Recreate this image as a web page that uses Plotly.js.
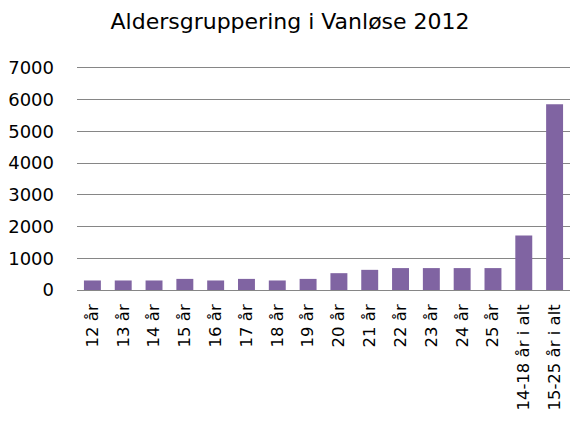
<!DOCTYPE html>
<html>
<head>
<meta charset="utf-8">
<script src="https://cdn.plot.ly/plotly-3.0.1.min.js"></script>
<style>html,body{margin:0;padding:0;background:#fff;}#chart{width:571px;height:427px;}</style>
</head>
<body>
<div id="chart"></div>
<script>
const categories = ["12 år","13 år","14 år","15 år","16 år","17 år","18 år","19 år","20 år","21 år","22 år","23 år","24 år","25 år","14-18 år i alt","15-25 år i alt"];
const values = [300,300,300,350,300,350,300,350,530,635,690,690,690,690,1720,5850];
const yTicks = [0,1000,2000,3000,4000,5000,6000,7000];

const trace = {
  type: 'bar',
  x: categories,
  y: values,
  marker: {color: '#8064A2', line: {color: '#8064A2', width: 0}},
  hoverinfo: 'x+y'
};

const layout = {
  width: 571,
  height: 427,
  margin: {l: 77, r: 1, t: 63, b: 137},
  paper_bgcolor: '#ffffff',
  plot_bgcolor: '#ffffff',
  font: {family: '"DejaVu Sans", sans-serif', color: '#000000', size: 16},
  title: {text: 'Aldersgruppering i Vanløse 2012', x: 0.508, xanchor: 'center', y: 0.95, yanchor: 'middle', font: {size: 22, color: '#000'}},
  bargap: 0.45,
  showlegend: false,
  xaxis: {
    type: 'category',
    tickangle: -90,
    showgrid: false,
    showline: false,
    ticks: '',
    ticklabelstandoff: 10,
    tickfont: {size: 16.5},
    zeroline: false
  },
  yaxis: {
    range: [0, 7150],
    tickvals: yTicks,
    ticktext: yTicks.map(String),
    showgrid: true,
    gridcolor: '#868686',
    gridwidth: 1,
    zeroline: true,
    zerolinecolor: '#868686',
    zerolinewidth: 1,
    showline: false,
    ticks: '',
    ticklabelstandoff: 22,
    tickfont: {size: 18}
  }
};

Plotly.newPlot('chart', [trace], layout, {displayModeBar: false, staticPlot: true});
</script>
</body>
</html>
